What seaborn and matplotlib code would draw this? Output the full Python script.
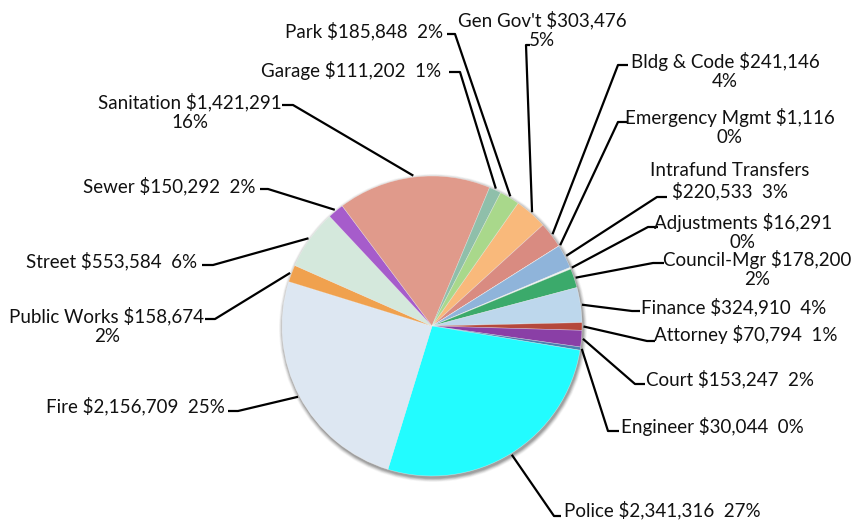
import numpy as np
import matplotlib
matplotlib.use("Agg")
import matplotlib.pyplot as plt
import seaborn as sns
from matplotlib.patches import Circle

# General fund expenditures by department
departments = [
    "Gen Gov't", "Bldg & Code", "Emergency Mgmt", "Intrafund Transfers",
    "Adjustments", "Council-Mgr", "Finance", "Attorney", "Court", "Engineer",
    "Police", "Fire", "Public Works", "Street", "Sewer", "Sanitation",
    "Garage", "Park",
]
amounts = [
    303476, 241146, 1116, 220533,
    16291, 178200, 324910, 70794, 153247, 30044,
    2341316, 2156709, 158674, 553584, 150292, 1421291,
    111202, 185848,
]
pct_labels = [
    "5%", "4%", "0%", "3%",
    "0%", "2%", "4%", "1%", "2%", "0%",
    "27%", "25%", "2%", "6%", "2%", "16%",
    "1%", "2%",
]
colors = [
    "#F9B97B", "#D98B81", "#E8C8A8", "#8FB4DA",
    "#EEF4F0", "#3BAA6B", "#BDD7EC", "#B5483B", "#8A3FA6", "#4A7FB0",
    "#22FCFF", "#DDE7F2", "#F0A14E", "#D4E8DC", "#A65CCB", "#E09A8B",
    "#8FBFAA", "#A9D88B",
]

# Figure geometry in pixels (y measured downward from the top edge)
W, H = 854, 531
CX, CY, R = 432, 326, 150

# Label layout: text block centre, elbow of the leader, end of its short hook,
# and where the text wraps ("name": after amount, "amount": after name, None: one line)
layout = {
    "Gen Gov't":           ((542, 30),  (526, 45),  (530, 45),  "name"),
    "Bldg & Code":         ((725, 71),  (618, 65),  (628, 65),  "name"),
    "Emergency Mgmt":      ((730, 127), (618, 122), (628, 122), "name"),
    "Intrafund Transfers": ((730, 181), (657, 197), (667, 197), "amount"),
    "Adjustments":         ((743, 232), (648, 227), (658, 227), "name"),
    "Council-Mgr":         ((757, 269), (653, 263), (664, 263), "name"),
    "Finance":             ((734, 307), (632, 311), (640, 311), None),
    "Attorney":            ((746, 335), (647, 341), (655, 341), None),
    "Court":               ((730, 379), (635, 384), (645, 384), None),
    "Engineer":            ((712, 427), (608, 431), (619, 431), None),
    "Police":              ((662, 510), (554, 516), (561, 516), None),
    "Fire":                ((135, 406), (238, 411), (228, 411), None),
    "Public Works":        ((107, 326), (215, 319), (205, 319), "name"),
    "Street":              ((112, 261), (213, 265), (202, 265), None),
    "Sewer":               ((169, 186), (268, 189), (260, 189), None),
    "Sanitation":          ((190, 112), (293, 105), (282, 105), "name"),
    "Garage":              ((351, 70),  (460, 72),  (449, 72),  None),
    "Park":                ((364, 31),  (455, 34),  (447, 34),  None),
}

sns.set_theme(style="white")
plt.rcParams["font.family"] = ["Lato", "DejaVu Sans"]


def P(x, y):
    """Pixel position (y down) to axes data coordinates (y up)."""
    return x, H - y


fig = plt.figure(figsize=(W / 100, H / 100), dpi=100)
fig.patch.set_facecolor("white")
ax = fig.add_axes([0, 0, 1, 1])

# soft drop shadow behind the pie
for i, a in enumerate(np.linspace(0.05, 0.22, 6)):
    ax.add_patch(Circle(P(CX + 1, CY + 2), R + 4 - i * 0.7,
                        color="#606060", alpha=a, lw=0, zorder=0))

wedges, _ = ax.pie(
    amounts, colors=colors, startangle=55, counterclock=False,
    radius=R, center=P(CX, CY), frame=True,
    wedgeprops=dict(linewidth=0.4, edgecolor="#ffffff80"),
)
for w in wedges:
    w.set_zorder(2)

for w, name, amt, pct in zip(wedges, departments, amounts, pct_labels):
    (tx, ty), (ex, ey), (hx, hy), wrap = layout[name]
    mid = np.deg2rad((w.theta1 + w.theta2) / 2)
    sx = w.center[0] + R * 1.01 * np.cos(mid)
    sy = w.center[1] + R * 1.01 * np.sin(mid)
    money = f"${amt:,}"
    if wrap == "name":
        text = f"{name} {money}\n{pct}"
    elif wrap == "amount":
        text = f"{name}\n{money}  {pct}"
    else:
        text = f"{name} {money}  {pct}"
    px, py = zip(P(ex, ey), P(hx, hy))
    ax.plot([sx, px[0], px[1]], [sy, py[0], py[1]],
            color="black", lw=1.6, solid_capstyle="butt", zorder=3)
    ax.text(*P(tx, ty), text, ha="center", va="center", fontsize=13.5,
            color="#111111", linespacing=1.15, multialignment="center", zorder=4)

ax.set_xlim(0, W)
ax.set_ylim(0, H)
ax.set_aspect("equal")
ax.axis("off")

fig.savefig("out.png", dpi=100, facecolor="white")
